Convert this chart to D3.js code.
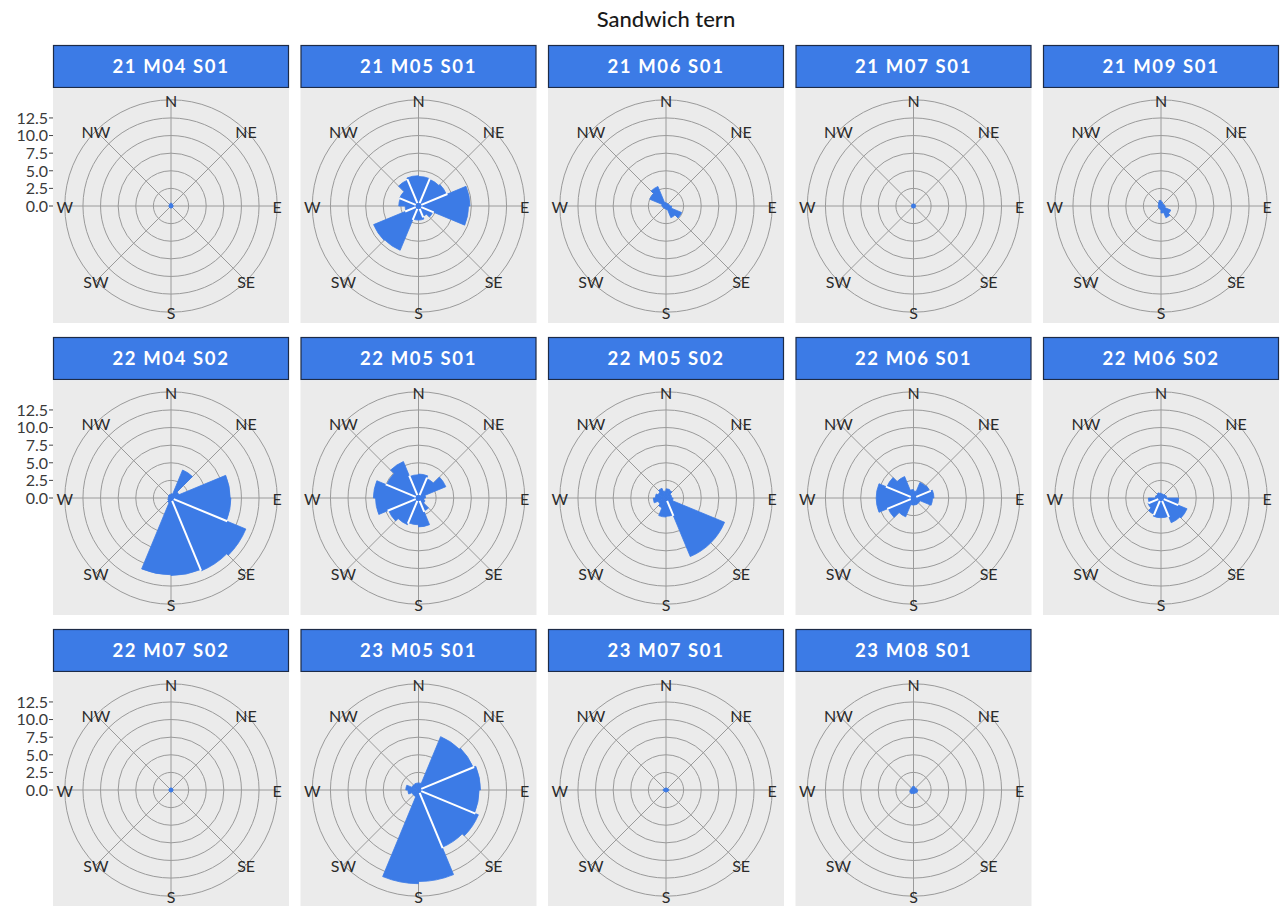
<!DOCTYPE html>
<html>
<head>
<meta charset="utf-8">
<script src="https://cdn.jsdelivr.net/npm/d3@7"></script>
<style>
  html, body { margin: 0; padding: 0; background: #ffffff; }
  svg { display: block; }
</style>
</head>
<body>
<svg id="chart" width="1280" height="906"></svg>
<script>
// ---------------- DATA ----------------
const chartTitle = "Sandwich tern";
const panelTitles = ["21 M04 S01","21 M05 S01","21 M06 S01","21 M07 S01","21 M09 S01",
                     "22 M04 S02","22 M05 S01","22 M05 S02","22 M06 S01","22 M06 S02",
                     "22 M07 S02","23 M05 S01","23 M07 S01","23 M08 S01"];
const dirLabels = ["N","NE","E","SE","S","SW","W","NW"];
const dirAngles = [0, 45, 90, 135, 180, 225, 270, 315];
const rTicks = [0, 2.5, 5, 7.5, 10, 12.5];
const rTickLabels = ["0.0","2.5","5.0","7.5","10.0","12.5"];
// start angle (degrees clockwise from N) of each 22.5-degree bin; two bins per compass sector
const binStarts = [-22.5, 0, 22.5, 45, 67.5, 90, 112.5, 135, 157.5, 180, 202.5, 225, 247.5, 270, 292.5, 315];
const binWidth = 22.5;

// values per bin (same order as binStarts)
const v21M04S01 = [0.4, 0.4, 0.3, 0.3, 0.3, 0.3, 0.3, 0.3, 0.3, 0.3, 0.3, 0.3, 0.3, 0.3, 0.3, 0.3];
const v21M05S01 = [4.3, 4.2, 4.1, 4.3, 7.3, 7.1, 2.2, 1.6, 2.0, 2.0, 6.8, 6.9, 1.9, 2.8, 2.9, 4.0];
const v21M06S01 = [0.5, 0.4, 0.4, 0.4, 0.5, 0.8, 2.4, 1.8, 0.5, 0.4, 0.4, 0.4, 0.5, 0.6, 2.5, 3.0];
const v21M07S01 = [0.3, 0.3, 0.3, 0.3, 0.3, 0.3, 0.3, 0.3, 0.3, 0.3, 0.3, 0.3, 0.3, 0.3, 0.3, 0.3];
const v21M09S01 = [0.8, 0.6, 0.4, 0.4, 0.5, 0.6, 1.5, 1.8, 1.0, 0.5, 0.4, 0.4, 0.4, 0.4, 0.4, 0.6];
const v22M04S02 = [0.5, 0.6, 4.3, 1.2, 8.4, 8.5, 11.5, 11.2, 11.0, 10.9, 0.7, 0.5, 0.4, 0.4, 0.4, 0.5];
const v22M05S01 = [3.3, 3.4, 3.0, 4.2, 1.0, 0.8, 1.0, 2.0, 4.1, 3.8, 4.1, 4.6, 6.1, 6.4, 4.9, 5.6];
const v22M05S02 = [1.0, 1.3, 1.2, 0.8, 0.8, 1.0, 9.0, 9.0, 2.6, 2.7, 1.5, 1.2, 1.8, 1.5, 1.2, 1.5];
const v22M06S01 = [1.2, 1.0, 2.4, 2.5, 2.9, 2.7, 1.0, 1.0, 1.0, 1.0, 2.9, 3.9, 5.3, 5.3, 4.1, 3.3];
const v22M06S02 = [0.7, 0.6, 0.6, 0.7, 0.8, 2.5, 4.0, 3.8, 2.8, 2.8, 2.5, 2.0, 1.8, 0.8, 0.7, 0.8];
const v22M07S02 = [0.3, 0.3, 0.3, 0.3, 0.3, 0.3, 0.3, 0.3, 0.3, 0.3, 0.3, 0.3, 0.3, 0.3, 0.3, 0.3];
const v23M05S01 = [1.0, 1.0, 8.2, 8.4, 8.8, 8.6, 9.2, 8.8, 13.0, 13.3, 1.0, 1.0, 1.5, 1.8, 1.0, 1.0];
const v23M07S01 = [0.3, 0.3, 0.3, 0.3, 0.4, 0.4, 0.3, 0.3, 0.3, 0.3, 0.3, 0.3, 0.4, 0.4, 0.3, 0.3];
const v23M08S01 = [0.5, 0.5, 0.4, 0.4, 0.5, 0.6, 0.6, 0.5, 0.5, 0.5, 0.6, 0.6, 0.5, 0.4, 0.4, 0.4];

const panelValues = [v21M04S01, v21M05S01, v21M06S01, v21M07S01, v21M09S01,
                     v22M04S02, v22M05S01, v22M05S02, v22M06S01, v22M06S02,
                     v22M07S02, v23M05S01, v23M07S01, v23M08S01];
const rMax = 13.4;

// ---------------- LAYOUT ----------------
const nCols = 5;
const colPitch = 247.5, rowPitch = 292;
const firstCx = 171, firstCy = 206;
const panelW = 236, panelH = 234;
const stripH = 43, stripGap = 1;
const barColor = "#3C7BE6";
const stripColor = "#3C7BE6";
const gridColor = "#9a9a9a";
const bgColor = "#EBEBEB";
const fontFam = "Lato, 'Open Sans', 'DejaVu Sans', sans-serif";

const svg = d3.select("#chart");

svg.append("text")
  .attr("x", 666).attr("y", 27)
  .attr("text-anchor", "middle")
  .attr("font-family", fontFam)
  .attr("font-size", 22)
  .attr("font-weight", 500)
  .attr("fill", "#1a1a1a")
  .text(chartTitle);

const theta = d3.scaleLinear().domain([0, 360]).range([0, 2 * Math.PI]);
const r = d3.scaleLinear().domain([0, rMax]).range([0, 0.4 * panelW]);
const outerR = 0.45 * panelW;

function pt(angDeg, rad) {
  const a = theta(angDeg);
  return [rad * Math.sin(a), -rad * Math.cos(a)];
}

panelTitles.forEach((title, i) => {
  const col = i % nCols, row = Math.floor(i / nCols);
  const cx = firstCx + col * colPitch;
  const cy = firstCy + row * rowPitch;
  const left = cx - panelW / 2, top = cy - panelH / 2;
  const g = svg.append("g");

  // strip
  g.append("rect")
    .attr("x", left + 0.5).attr("y", top - stripGap - stripH + 0.5)
    .attr("width", panelW - 1).attr("height", stripH - 1)
    .attr("fill", stripColor).attr("stroke", "#1d2b47").attr("stroke-width", 1.2);
  g.append("text")
    .attr("x", cx).attr("y", top - stripGap - stripH / 2)
    .attr("dy", "0.36em")
    .attr("text-anchor", "middle")
    .attr("font-family", fontFam).attr("font-weight", "bold")
    .attr("font-size", 18.5).attr("letter-spacing", 1.6)
    .attr("fill", "#ffffff")
    .text(title);

  // panel background
  g.append("rect")
    .attr("x", left).attr("y", top)
    .attr("width", panelW).attr("height", panelH)
    .attr("fill", bgColor);

  const p = g.append("g").attr("transform", `translate(${cx},${cy})`);

  // spokes
  dirAngles.forEach(a => {
    const [x, y] = pt(a, outerR);
    p.append("line").attr("x1", 0).attr("y1", 0).attr("x2", x).attr("y2", y)
      .attr("stroke", gridColor).attr("stroke-width", 1);
  });
  // circles
  rTicks.filter(t => t > 0).map(t => r(t)).concat([outerR]).forEach(rad => {
    p.append("circle").attr("r", rad)
      .attr("fill", "none").attr("stroke", gridColor).attr("stroke-width", 1);
  });

  // bars: one path per compass sector (two bins)
  const vals = panelValues[i];
  const sectorR = [];
  for (let s = 0; s < 8; s++) {
    const b0 = 2 * s, b1 = 2 * s + 1;
    const a0 = binStarts[b0], a1 = binStarts[b1], a2 = binStarts[b1] + binWidth;
    const r0 = r(vals[b0]), r1 = r(vals[b1]);
    sectorR.push([r0, r1]);
    const path = d3.path();
    path.moveTo(0, 0);
    let q = pt(a0, r0); path.lineTo(q[0], q[1]);
    path.arc(0, 0, r0, theta(a0) - Math.PI / 2, theta(a1) - Math.PI / 2);
    q = pt(a1, r1); path.lineTo(q[0], q[1]);
    path.arc(0, 0, r1, theta(a1) - Math.PI / 2, theta(a2) - Math.PI / 2);
    path.closePath();
    p.append("path").attr("d", path.toString())
      .attr("fill", barColor)
      .attr("stroke", barColor).attr("stroke-width", 0.8)
      .attr("stroke-linejoin", "round");
  }
  // white separations between adjacent sectors (where both have bars)
  for (let s = 0; s < 8; s++) {
    const prev = (s + 7) % 8;
    const len = Math.min(sectorR[prev][1], sectorR[s][0]);
    if (len > 11) {
      const a = binStarts[2 * s];
      const [x1, y1] = pt(a, 3);
      const [x2, y2] = pt(a, len + 1);
      p.append("line").attr("x1", x1).attr("y1", y1).attr("x2", x2).attr("y2", y2)
        .attr("stroke", "#ffffff").attr("stroke-width", 2);
    }
  }

  // direction labels
  dirLabels.forEach((lab, k) => {
    const [x, y] = pt(dirAngles[k], outerR);
    p.append("text").attr("x", x).attr("y", y + 1)
      .attr("dy", "0.36em").attr("text-anchor", "middle")
      .attr("font-family", fontFam).attr("font-size", 16)
      .attr("fill", "#2b2b2b")
      .text(lab);
  });

  // radial axis on left column
  if (col === 0) {
    rTicks.forEach((t, k) => {
      const y = cy - r(t);
      svg.append("line").attr("x1", left - 4).attr("x2", left).attr("y1", y).attr("y2", y)
        .attr("stroke", "#444").attr("stroke-width", 1);
      svg.append("text").attr("x", left - 5).attr("y", y)
        .attr("dy", "0.36em").attr("text-anchor", "end")
        .attr("font-family", fontFam).attr("font-size", 16)
        .attr("fill", "#3a3a3a")
        .text(rTickLabels[k]);
    });
  }
});
</script>
</body>
</html>
